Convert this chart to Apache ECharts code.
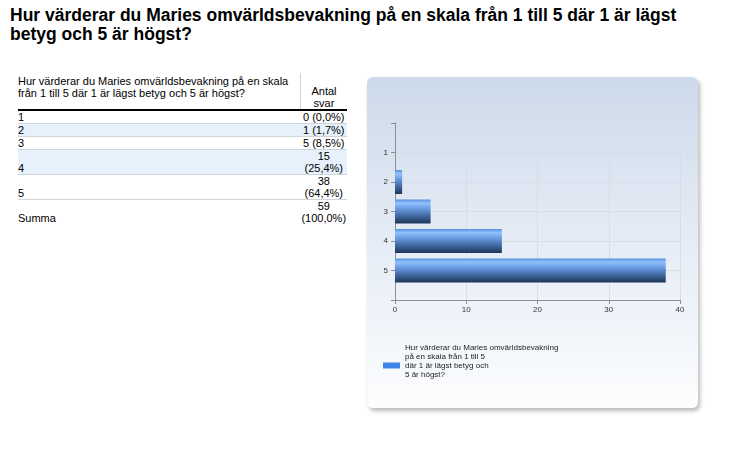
<!DOCTYPE html>
<html>
<head>
<meta charset="utf-8">
<script src="https://cdn.jsdelivr.net/npm/echarts@6/dist/echarts.min.js"></script>
<style>
  html, body { margin: 0; padding: 0; background: #fff; }
  body { width: 731px; height: 472px; position: relative; overflow: hidden; font-family: Arial, "Liberation Sans", sans-serif; color: #000; }
  #title { position: absolute; left: 10px; top: 6px; font-size: 17.5px; line-height: 18.5px; font-weight: bold; margin: 0; }
  #tbl { position: absolute; left: 18px; top: 73px; width: 329px; border-collapse: collapse; font-size: 11px; line-height: 12px; }
  #tbl td, #tbl th { padding: 0; font-weight: normal; }
  #tbl th { text-align: left; vertical-align: top; padding-top: 2px; height: 34px; border-bottom: 2px solid #000; }
  #tbl th.num { text-align: center; vertical-align: bottom; border-left: 1px solid #d0d0d0; padding-top: 0; width: 46px; }
  #tbl td { vertical-align: bottom; border-bottom: 1px solid #cfd4da; }
  #tbl td.num { text-align: center; }
  #tbl tr.alt td { background: #e6f1fb; }
  #tbl tr.sum td { border-bottom: none; }
  #chart { position: absolute; left: 367px; top: 77px; width: 331px; height: 331px; border-radius: 6px; box-shadow: 2px 3px 4px rgba(0,0,0,0.28); overflow: hidden; }
</style>
</head>
<body>
<h1 id="title">Hur värderar du Maries omvärldsbevakning på en skala från 1 till 5 där 1 är lägst<br>betyg och 5 är högst?</h1>
<table id="tbl"></table>
<div id="chart"></div>
<script>
const question = "Hur värderar du Maries omvärldsbevakning på en skala från 1 till 5 där 1 är lägst betyg och 5 är högst?";
const categories = ["1", "2", "3", "4", "5"];
const counts = [0, 1, 5, 15, 38];
const percents = ["0,0%", "1,7%", "8,5%", "25,4%", "64,4%"];
const total = 59;
const totalPercent = "100,0%";
const xTicks = [0, 10, 20, 30, 40];
const legendText = "Hur värderar du Maries omvärldsbevakning\npå en skala från 1 till 5\ndär 1 är lägst betyg och\n5 är högst?";

// table
function cellText(n, p) {
  const s = n + " (" + p + ")";
  return s.length > 8 ? n + "<br>(" + p + ")" : s;
}
let html = '<tr><th>Hur värderar du Maries omvärldsbevakning på en skala<br>från 1 till 5 där 1 är lägst betyg och 5 är högst?</th><th class="num">Antal<br>svar</th></tr>';
categories.forEach((c, i) => {
  html += '<tr class="' + (i % 2 ? "alt" : "") + '"><td>' + c + '</td><td class="num">' + cellText(counts[i], percents[i]) + '</td></tr>';
});
html += '<tr class="sum"><td>Summa</td><td class="num">' + cellText(total, totalPercent) + '</td></tr>';
document.getElementById("tbl").innerHTML = html;

// chart
const axisCats = [""].concat(categories, [""]);
const barData = [null].concat(counts, [null]);
const gridColor = "#d9dee6";
const axisColor = "#8a8f96";

const chart = echarts.init(document.getElementById("chart"), null, { renderer: "canvas" });
chart.setOption({
  animation: false,
  backgroundColor: new echarts.graphic.LinearGradient(0, 0, 0, 1, [
    { offset: 0, color: "#cddaea" },
    { offset: 0.55, color: "#e8eef7" },
    { offset: 1, color: "#fcfdfe" },
  ]),
  textStyle: { fontFamily: "Arial, 'Liberation Sans', sans-serif" },
  grid: { left: 28, right: 18, top: 46, bottom: 108, containLabel: false },
  legend: {
    left: 16,
    top: 266,
    padding: 0,
    itemWidth: 17,
    itemHeight: 6,
    icon: "rect",
    // trailing blank line lifts the text so the swatch sits by the third line
    formatter: (name) => name + "\n ",
    textStyle: { fontSize: 8, lineHeight: 9, color: "#222" },
    data: [{ name: legendText, itemStyle: { color: "#3f86e8" } }],
  },
  xAxis: {
    type: "value",
    min: xTicks[0],
    max: xTicks[xTicks.length - 1],
    interval: xTicks[1] - xTicks[0],
    axisLine: { show: true, lineStyle: { color: axisColor } },
    axisTick: { show: true, length: 4, lineStyle: { color: axisColor } },
    axisLabel: { color: "#333", fontSize: 8, margin: 6 },
    splitLine: { show: true, lineStyle: { color: gridColor } },
  },
  yAxis: {
    type: "category",
    inverse: true,
    boundaryGap: false,
    data: axisCats,
    axisLine: { show: true, lineStyle: { color: axisColor } },
    axisTick: { show: true, length: 4, lineStyle: { color: axisColor } },
    axisLabel: { color: "#333", fontSize: 8, margin: 7 },
    splitLine: { show: true, lineStyle: { color: gridColor } },
  },
  series: [{
    name: legendText,
    type: "bar",
    data: barData,
    barWidth: 24,
    itemStyle: {
      color: new echarts.graphic.LinearGradient(0, 0, 0, 1, [
        { offset: 0, color: "#5690e2" },
        { offset: 0.15, color: "#92c2fc" },
        { offset: 0.35, color: "#6ea0e8" },
        { offset: 0.7, color: "#3f659c" },
        { offset: 1, color: "#1d3558" },
      ]),
    },
  }],
});
</script>
</body>
</html>
